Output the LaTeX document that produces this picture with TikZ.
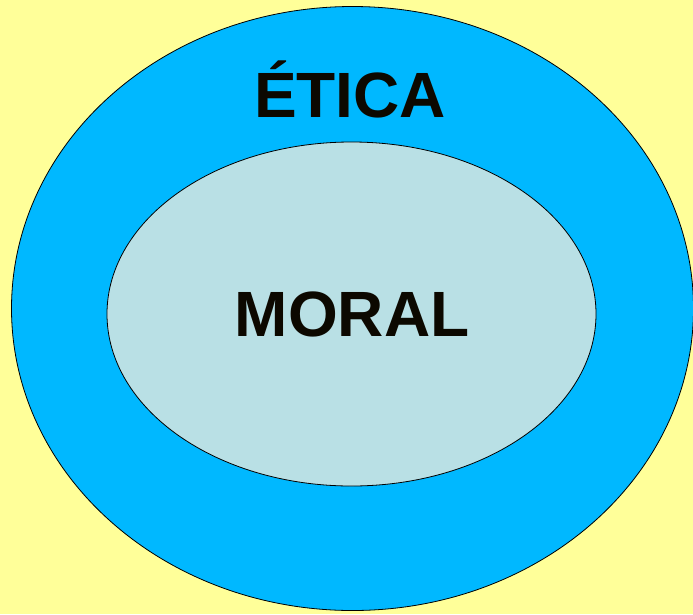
\documentclass[tikz,border=0pt]{standalone}
\usepackage{fontspec}
\setmainfont{Liberation Sans}
\definecolor{bgyellow}{RGB}{255,255,153}
\definecolor{outerblue}{RGB}{0,184,255}
\definecolor{innerblue}{RGB}{185,224,229}
\definecolor{txt}{RGB}{12,8,0}
\tikzset{
  ring/.style={draw=black, line width=0.8pt},
  big/.style={font=\fontsize{64}{64}\selectfont\bfseries, text=txt, inner sep=0pt}
}
\begin{document}
\begin{tikzpicture}[x=1pt,y=-1pt]
\fill[bgyellow] (0,0) rectangle (693,614);
\useasboundingbox (0,0) rectangle (693,614);
\begin{scope}
\clip (0,0) rectangle (693,614);
\draw[ring, fill=outerblue] (352.5,308.5) ellipse [x radius=341, y radius=302];
\end{scope}
\draw[ring, fill=innerblue] (351.5,314) ellipse [x radius=244.5, y radius=172];
\node[big, anchor=base] (etica) at (350,117) {ÉTICA};
\node[big, anchor=base] (moral) at (352,336) {MORAL};
\end{tikzpicture}
\end{document}
